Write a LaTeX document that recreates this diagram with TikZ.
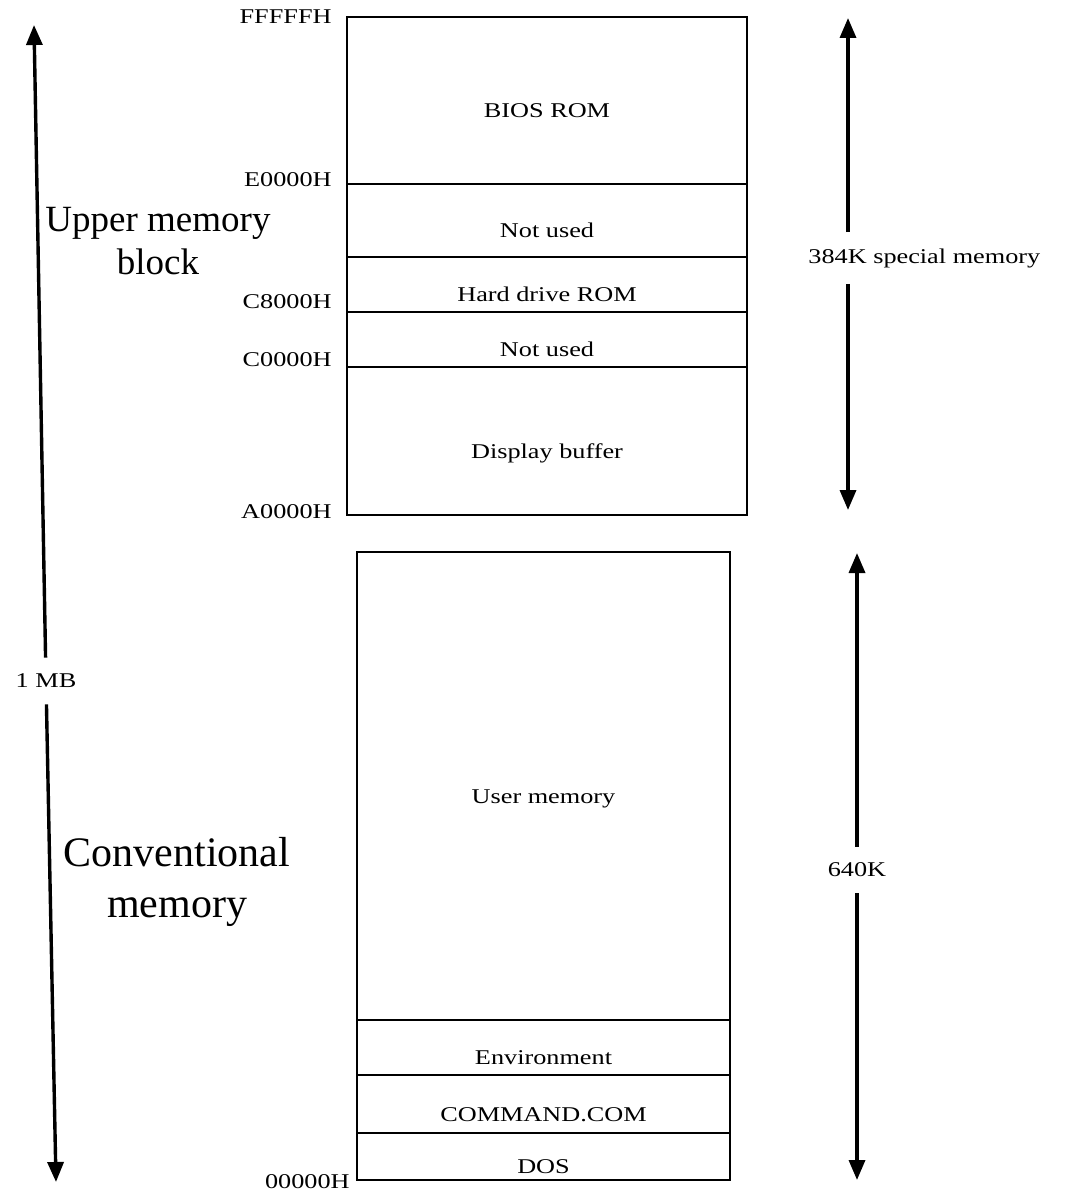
\documentclass[tikz,border=0pt]{standalone}
\usepackage{fontspec}
\setmainfont{Liberation Serif}
\newfontfamily\scanfont[FakeStretch=1.25]{Liberation Serif}
\usetikzlibrary{positioning,arrows.meta}

\begin{document}
\begin{tikzpicture}[x=0.5pt,y=-0.5pt,
                    cell/.style={draw,rectangle,line width=1.3pt,inner sep=0pt,outer sep=0pt,
                      font=\scanfont\fontsize{10.5}{12}\selectfont,text height=17pt,text depth=0pt},
                    upper cell/.style={cell,minimum width=200pt},
                    lower cell/.style={cell,minimum width=186.5pt},
                    addr/.style={anchor=east,inner sep=0pt,font=\scanfont\fontsize{10.5}{12}\selectfont},
                    size label/.style={inner xsep=0pt,inner ysep=8pt,font=\scanfont\fontsize{10.5}{12}\selectfont},
                    big label/.style={align=center,inner sep=0pt},
                    span arrow/.style={-{Triangle[length=10pt,width=8pt]},line width=1.7pt}]
  \useasboundingbox (0,0) rectangle (1068,1193);

  % upper memory map
  \node[upper cell,minimum height=83.5pt,anchor=north west] (bios) at (347,17) {BIOS ROM};
  \node[upper cell,minimum height=36.5pt] (nu1) [below=0pt of bios] {Not used};
  \node[upper cell,minimum height=27.5pt] (hd) [below=0pt of nu1] {Hard drive ROM};
  \node[upper cell,minimum height=27.5pt] (nu2) [below=0pt of hd] {Not used};
  \node[upper cell,minimum height=74pt] (disp) [below=0pt of nu2] {Display buffer};

  % conventional memory map
  \node[lower cell,minimum height=234pt,anchor=north west] (user) at (357,552) {User memory};
  \node[lower cell,minimum height=27.5pt] (env) [below=0pt of user] {Environment};
  \node[lower cell,minimum height=29pt] (cmd) [below=0pt of env] {COMMAND.COM};
  \node[lower cell,minimum height=23.5pt] (dos) [below=0pt of cmd] {DOS};

  % addresses
  \node[addr] (fffff) at ([xshift=-7.5pt]bios.north west) {FFFFFH};
  \node[addr] (e0000) at ([xshift=-7.5pt,yshift=2pt]nu1.north west) {E0000H};
  \node[addr] (c8000) at ([xshift=-7.5pt,yshift=5pt]nu2.north west) {C8000H};
  \node[addr] (c0000) at ([xshift=-7.5pt,yshift=3.5pt]disp.north west) {C0000H};
  \node[addr] (a0000) at ([xshift=-7.5pt,yshift=1.5pt]disp.south west) {A0000H};
  \node[addr] (z0000) at ([xshift=-3.5pt,yshift=-1pt]dos.south west) {00000H};

  % big labels
  \node[big label,font=\fontsize{18.5}{21.5}\selectfont] (umb) at (158,241) {Upper memory\\block};
  \node[big label,font=\fontsize{21}{25.5}\selectfont] (conv) at (177,882) {Conventional\\memory};

  % span arrows
  \coordinate (mbtop) at (34,25);
  \coordinate (mbbot) at (56,1182);
  \node[size label] (mb) at (46,681) {1 MB};
  \draw[span arrow] (mb) -- (mbtop);
  \draw[span arrow] (mb) -- (mbbot);

  \coordinate (spectop) at (848,18);
  \coordinate (specbot) at (848,510);
  \node[size label,anchor=west] (spec) at (808,258) {384K special memory};
  \draw[span arrow] (spectop |- spec.north) -- (spectop);
  \draw[span arrow] (specbot |- spec.south) -- (specbot);

  \coordinate (ktop) at (857,553);
  \coordinate (kbot) at (857,1180);
  \node[size label] (k640) at (857,870) {640K};
  \draw[span arrow] (k640) -- (ktop);
  \draw[span arrow] (k640) -- (kbot);
\end{tikzpicture}
\end{document}
